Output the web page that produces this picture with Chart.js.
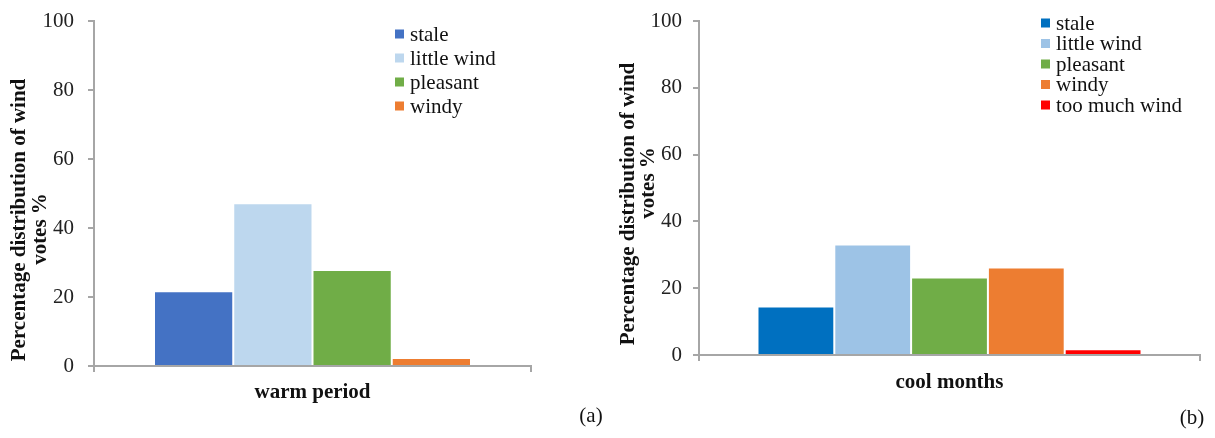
<!DOCTYPE html>
<html>
<head>
<meta charset="utf-8">
<script src="https://cdn.jsdelivr.net/npm/chart.js@4.4.0/dist/chart.umd.min.js"></script>
<style>
  html, body { margin: 0; padding: 0; background: #ffffff; }
  #wrap { position: relative; width: 1215px; height: 438px; overflow: hidden; }
  canvas { position: absolute; top: 0; }
</style>
</head>
<body>
<div id="wrap">
  <canvas id="chartA" width="607" height="438" style="left:0px"></canvas>
  <canvas id="chartB" width="608" height="438" style="left:607px"></canvas>
</div>
<script>
// ---- data ----
const categoriesA = ['warm period'];
const seriesA = ['stale', 'little wind', 'pleasant', 'windy'];
const valuesA = [21.7, 47.2, 27.8, 2.3];

const categoriesB = ['cool months'];
const seriesB = ['stale', 'little wind', 'pleasant', 'windy', 'too much wind'];
const valuesB = [14.5, 33.1, 23.2, 26.2, 1.7];

const yTicks = [0, 20, 40, 60, 80, 100];
const yTitleLines = ['Percentage distribution of wind', 'votes %'];
const panelA = '(a)';
const panelB = '(b)';

// ---- styles ----
const colorsA = ['#4472C4', '#BDD7EE', '#70AD47', '#ED7D31'];
const colorsB = ['#0070C0', '#9DC3E6', '#70AD47', '#ED7D31', '#FF0000'];
const FONT = '"Liberation Serif", "Times New Roman", serif';
const AXIS = '#A6A6A6';

const overlayPlugin = {
  id: 'overlay',
  afterDraw(chart, args, opts) {
    const ctx = chart.ctx;
    ctx.save();
    // legend
    const lg = opts.legend;
    ctx.font = '21px ' + FONT;
    ctx.textBaseline = 'middle';
    ctx.textAlign = 'left';
    chart.data.datasets.forEach((ds, i) => {
      const y = lg.y + i * lg.spacing;
      ctx.fillStyle = ds.backgroundColor;
      ctx.fillRect(lg.x, y - 4.5, 9, 9);
      ctx.fillStyle = '#111';
      ctx.fillText(ds.label, lg.x + 15, y + 1);
    });
    // y title
    ctx.font = 'bold 21px ' + FONT;
    ctx.fillStyle = '#111';
    ctx.textAlign = 'center';
    opts.yTitle.forEach((t) => {
      ctx.save();
      ctx.translate(t.x, t.y);
      ctx.rotate(-Math.PI / 2);
      ctx.fillText(t.text, 0, 0);
      ctx.restore();
    });
    // panel label
    ctx.font = '21px ' + FONT;
    ctx.textAlign = 'center';
    ctx.fillText(opts.panel.text, opts.panel.x, opts.panel.y);
    ctx.restore();
  }
};

function makeChart(id, categories, series, values, colors, cfg) {
  const datasets = series.map((name, i) => ({
    label: name,
    data: [values[i]],
    backgroundColor: colors[i],
    borderColor: '#ffffff',
    borderWidth: 1,
    barPercentage: 1.0,
    categoryPercentage: cfg.catPct
  }));
  return new Chart(document.getElementById(id), {
    type: 'bar',
    data: { labels: categories, datasets },
    plugins: [overlayPlugin],
    options: {
      responsive: false,
      animation: false,
      layout: { padding: { top: cfg.top, right: cfg.right, left: 0, bottom: 0 } },
      plugins: {
        legend: { display: false },
        tooltip: { enabled: false },
        overlay: {
          legend: cfg.legend,
          yTitle: [
            { text: yTitleLines[0], x: cfg.t1x, y: cfg.t1y },
            { text: yTitleLines[1], x: cfg.t2x, y: cfg.t2y }
          ],
          panel: cfg.panel
        }
      },
      scales: {
        x: {
          grid: { display: true, drawOnChartArea: false, tickLength: 6, color: AXIS, lineWidth: 2, offset: true },
          border: { display: true, color: AXIS, width: 2 },
          ticks: { color: '#111', font: { family: FONT, size: 21, weight: 'bold' }, padding: cfg.xPad },
          afterFit(scale) { scale.height = cfg.xHeight; }
        },
        y: {
          min: 0, max: 100,
          afterBuildTicks(scale) { scale.ticks = yTicks.map(v => ({ value: v })); },
          grid: { display: true, drawOnChartArea: false, tickLength: 6, color: AXIS, lineWidth: 2 },
          border: { display: true, color: AXIS, width: 2 },
          ticks: { color: '#222', font: { family: FONT, size: 21 }, padding: cfg.yPad },
          afterFit(scale) {
            scale.width = cfg.yWidth;
            scale.paddingTop = 0;
            scale.paddingBottom = 0;
          }
        }
      }
    }
  });
}

makeChart('chartA', categoriesA, seriesA, valuesA, colorsA, {
  catPct: 0.7254, top: 21, right: 76, xHeight: 72, yWidth: 94, xPad: 8, yPad: 14,
  legend: { x: 395, y: 34, spacing: 24 },
  t1x: 20, t1y: 220, t2x: 41, t2y: 229,
  panel: { text: panelA, x: 591, y: 416 }
});

makeChart('chartB', categoriesB, seriesB, valuesB, colorsB, {
  catPct: 0.7665, top: 21, right: 15, xHeight: 83, yWidth: 92, xPad: 9, yPad: 11,
  legend: { x: 434, y: 23, spacing: 20.5 },
  t1x: 22, t1y: 204, t2x: 42, t2y: 183,
  panel: { text: panelB, x: 585, y: 418 }
});
</script>
</body>
</html>
